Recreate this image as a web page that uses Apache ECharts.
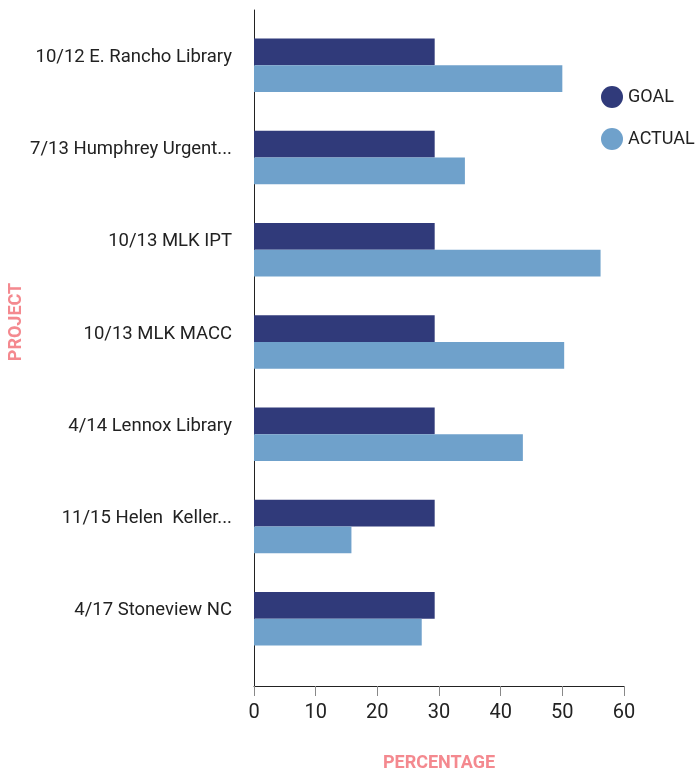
<!DOCTYPE html>
<html>
<head>
<meta charset="utf-8">
<script src="https://cdn.jsdelivr.net/npm/echarts@6/dist/echarts.min.js"></script>
<style>
  html, body { margin: 0; padding: 0; background: #fff; }
  #chart { width: 699px; height: 772px; }
</style>
</head>
<body>
<div id="chart"></div>
<script>
// Projects, top to bottom
const projects = [
  '10/12 E. Rancho Library',
  '7/13 Humphrey Urgent...',
  '10/13 MLK IPT',
  '10/13 MLK MACC',
  '4/14 Lennox Library',
  '11/15 Helen  Keller...',
  '4/17 Stoneview NC'
];
// Percentages per project
const goalValues = [29.3, 29.3, 29.3, 29.3, 29.3, 29.3, 29.3];
const actualValues = [50.0, 34.2, 56.2, 50.3, 43.6, 15.8, 27.2];
const xTicks = [0, 10, 20, 30, 40, 50, 60];

const xMin = xTicks[0];
const xMax = xTicks[xTicks.length - 1];

const chart = echarts.init(document.getElementById('chart'));
chart.setOption({
  animation: false,
  textStyle: { fontFamily: 'Roboto, sans-serif' },
  grid: [
    // outer frame: axis lines, ticks and names
    { left: 254, right: 75, top: 10, bottom: 86, outerBoundsMode: 'none' },
    // inner band area holding the bars and project labels
    { left: 254, right: 75, top: 19, bottom: 107, outerBoundsMode: 'none' }
  ],
  legend: {
    orient: 'vertical',
    left: 596,
    top: 81,
    icon: 'circle',
    itemWidth: 22,
    itemHeight: 22,
    itemGap: 20,
    textStyle: { fontSize: 18, color: '#222' },
    data: ['GOAL', 'ACTUAL']
  },
  xAxis: [
    {
      gridIndex: 0,
      type: 'value',
      min: xMin,
      max: xMax,
      interval: 10,
      name: 'PERCENTAGE',
      nameLocation: 'middle',
      nameGap: 68,
      nameTextStyle: { color: '#F4898F', fontSize: 18, fontWeight: 'bold' },
      axisLine: { show: true, lineStyle: { color: '#222', width: 1 } },
      axisTick: { show: true, length: 10, lineStyle: { color: '#888' } },
      axisLabel: { fontSize: 20, color: '#222', margin: 17 },
      splitLine: { show: false }
    },
    {
      gridIndex: 1,
      type: 'value',
      min: xMin,
      max: xMax,
      show: false
    }
  ],
  yAxis: [
    {
      gridIndex: 0,
      type: 'value',
      min: 0,
      max: 1,
      axisLine: { show: true, lineStyle: { color: '#222', width: 1 } },
      axisTick: { show: false },
      axisLabel: { show: false },
      splitLine: { show: false }
    },
    {
      gridIndex: 1,
      type: 'category',
      data: projects,
      inverse: true,
      axisLine: { show: false },
      axisTick: { show: false },
      axisLabel: {
        fontSize: 18.5,
        color: '#222',
        margin: 22,
        verticalAlign: 'bottom',
        lineHeight: 16
      }
    }
  ],
  graphic: [{
    type: 'text',
    x: 7,
    y: 322,
    rotation: Math.PI / 2,
    style: {
      text: 'PROJECT',
      fill: '#F4898F',
      font: 'bold 18px Roboto, sans-serif',
      align: 'center',
      verticalAlign: 'top'
    }
  }],
  series: [
    {
      name: 'GOAL',
      type: 'bar',
      xAxisIndex: 1,
      yAxisIndex: 1,
      data: goalValues,
      itemStyle: { color: '#303A7A' },
      barGap: '0%',
      barCategoryGap: '42%'
    },
    {
      name: 'ACTUAL',
      type: 'bar',
      xAxisIndex: 1,
      yAxisIndex: 1,
      data: actualValues,
      itemStyle: { color: '#6FA1CB' },
      barGap: '0%',
      barCategoryGap: '42%'
    }
  ]
});
</script>
</body>
</html>
